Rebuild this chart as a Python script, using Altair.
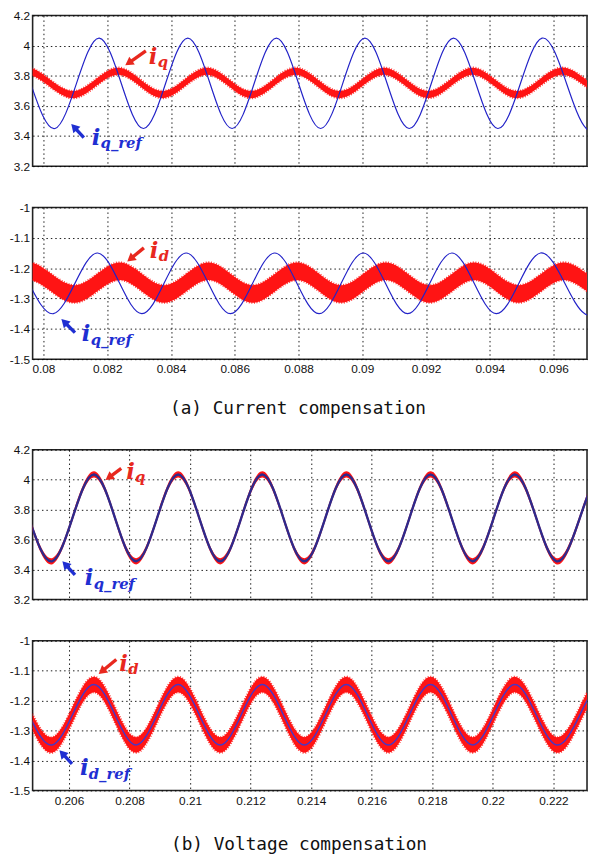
import math
import altair as alt
import pandas as pd

# ---------------- data (extrema of each waveform) ----------------
# (a) current compensation, x range and ticks
XDOM_A = [0.07966, 0.09705]
XTICKS_A = [0.08, 0.082, 0.084, 0.086, 0.088, 0.09, 0.092, 0.094, 0.096]
# (b) voltage compensation
XDOM_B = [0.2048, 0.22311]
XTICKS_B = [0.206, 0.208, 0.21, 0.212, 0.214, 0.216, 0.218, 0.22, 0.222]

YDOM_Q = [3.2, 4.2]
YTICKS_Q = [3.2, 3.4, 3.6, 3.8, 4.0, 4.2]
YDOM_D = [-1.5, -1.0]
YTICKS_D = [-1.5, -1.4, -1.3, -1.2, -1.1, -1.0]

# panel 1: i_q_ref (blue) and i_q (red)
T_A_QREF = [0.077583, 0.078972, 0.080361, 0.08175, 0.083139, 0.084528, 0.085917, 0.087306,
            0.088694, 0.090083, 0.091472, 0.092861, 0.09425, 0.095639, 0.097028, 0.098417]
V_A_QREF = [3.45, 4.05, 3.45, 4.05, 3.45, 4.05, 3.45, 4.05,
            3.45, 4.05, 3.45, 4.05, 3.45, 4.05, 3.45, 4.05]
T_A_Q = [0.078183, 0.079572, 0.080961, 0.08235, 0.083739, 0.085128, 0.086517, 0.087906,
         0.089294, 0.090683, 0.092072, 0.093461, 0.09485, 0.096239, 0.097628, 0.099017]
V_A_Q = [3.675, 3.83, 3.675, 3.83, 3.675, 3.83, 3.675, 3.83,
         3.675, 3.83, 3.675, 3.83, 3.675, 3.83, 3.675, 3.83]
HW_A_Q = 0.024

# panel 2: reference (blue) and i_d (red)
T_A_DREF = [0.077533, 0.078922, 0.080311, 0.0817, 0.083089, 0.084478, 0.085867, 0.087256,
            0.088644, 0.090033, 0.091422, 0.092811, 0.0942, 0.095589, 0.096978, 0.098367]
V_A_DREF = [-1.35, -1.15, -1.35, -1.15, -1.35, -1.15, -1.35, -1.15,
            -1.35, -1.15, -1.35, -1.15, -1.35, -1.15, -1.35, -1.15]
T_A_D = [0.078233, 0.079622, 0.081011, 0.0824, 0.083789, 0.085178, 0.086567, 0.087956,
         0.089344, 0.090733, 0.092122, 0.093511, 0.0949, 0.096289, 0.097678, 0.099067]
V_A_D = [-1.285, -1.21, -1.285, -1.21, -1.285, -1.21, -1.285, -1.21,
         -1.285, -1.21, -1.285, -1.21, -1.285, -1.21, -1.285, -1.21]
HW_A_D = 0.029

# panels 3 and 4: reference and measured almost coincide
T_B = [0.202663, 0.204052, 0.205441, 0.20683, 0.208219, 0.209608, 0.210997, 0.212386, 0.213774,
       0.215163, 0.216552, 0.217941, 0.21933, 0.220719, 0.222108, 0.223497, 0.224886]
V_B_Q = [3.455, 4.035, 3.455, 4.035, 3.455, 4.035, 3.455, 4.035, 3.455,
         4.035, 3.455, 4.035, 3.455, 4.035, 3.455, 4.035, 3.455]
V_B_D = [-1.348, -1.146, -1.348, -1.146, -1.348, -1.146, -1.348, -1.146, -1.348,
         -1.146, -1.348, -1.146, -1.348, -1.146, -1.348, -1.146, -1.348]
HW_B_Q = 0.021
HW_B_D = 0.026

CAPTION_A = "(a) Current compensation"
CAPTION_B = "(b) Voltage compensation"

# ---------------- styling ----------------
RED = "#ff1414"
BLUE = "#2323c8"
BLUE_DARK = "#2e2a8c"
BLUE_MID = "#4a36c4"
ARROW_RED = "#e8281e"
ARROW_BLUE = "#1f2fd2"
W = 563
SERIF = "DejaVu Serif"

dummy = pd.DataFrame({"d": [0]})

Y_LABEL_EXPR = "replace(format(datum.value, '.1~f'), '\u2212', '-')"


def x_axis(ticks, show_labels, caption=None, cap_x=0, cap_y=0):
    kw = dict(values=ticks, format=".3~f", grid=True, ticks=False, domain=False,
              labels=show_labels, labelPadding=5, labelOverlap=False)
    if caption:
        kw.update(title=caption, titleX=cap_x, titleY=cap_y, titleAlign="center",
                  titleBaseline="middle", titleFont="DejaVu Sans Mono", titleFontSize=18,
                  titleFontWeight="normal", titleColor="#111111", titleAnchor="start")
    else:
        kw.update(title=None)
    return alt.Axis(**kw)


def y_axis(ticks):
    return alt.Axis(values=ticks, labelExpr=Y_LABEL_EXPR, grid=True, ticks=False,
                    domain=False, title=None, labelPadding=3, labelOverlap=False)


def arrow(tail, head, color):
    dx, dy = head[0] - tail[0], head[1] - tail[1]
    L = math.hypot(dx, dy)
    ux, uy = dx / L, dy / L
    ang = math.degrees(math.atan2(dx, -dy)) % 360
    hl = 10
    se = (head[0] - ux * hl * 0.6, head[1] - uy * hl * 0.6)
    tc = (head[0] - ux * hl * 0.45, head[1] - uy * hl * 0.45)
    shaft = alt.Chart(dummy).mark_rule(color=color, strokeWidth=3.4).encode(
        x=alt.value(tail[0]), y=alt.value(tail[1]), x2=alt.value(se[0]), y2=alt.value(se[1]))
    tri = alt.Chart(dummy).mark_point(shape="triangle", filled=True, size=95, angle=ang,
                                      color=color, opacity=1).encode(
        x=alt.value(tc[0]), y=alt.value(tc[1]))
    return [shaft, tri]


def label(pos_i, pos_sub, sub, color):
    li = alt.Chart(dummy).mark_text(text="i", font=SERIF, fontStyle="italic", fontWeight="bold",
                                    fontSize=23, align="left", baseline="alphabetic",
                                    color=color).encode(x=alt.value(pos_i[0]), y=alt.value(pos_i[1]))
    ls = alt.Chart(dummy).mark_text(text=sub, font=SERIF, fontStyle="italic", fontWeight="bold",
                                    fontSize=15, align="left", baseline="alphabetic",
                                    color=color).encode(x=alt.value(pos_sub[0]), y=alt.value(pos_sub[1]))
    return [li, ls]


def panel(height, xdom, xticks, show_x, ydom, yticks, ref_t, ref_v, meas_t, meas_v, hw,
          ref_color, ref_width, annots, fringe=True, caption=None, cap_x=0, cap_y=0):
    ref_df = pd.DataFrame({"t": ref_t, "v": ref_v})
    meas_df = pd.DataFrame({"t": meas_t, "v": meas_v})
    xs = alt.Scale(domain=xdom, nice=False, zero=False)
    ys = alt.Scale(domain=ydom, nice=False, zero=False)
    xa = x_axis(xticks, show_x, caption, cap_x, cap_y)
    ya = y_axis(yticks)
    area_kw = dict(interpolate="natural", color=RED, clip=True)
    if fringe:
        # ripple of the measured current: fringed (dashed) outline of the band
        area_kw.update(stroke=RED, strokeWidth=2.2, strokeDash=[1, 1.6], strokeOpacity=0.85)
    band = alt.Chart(meas_df).transform_calculate(
        hi=f"datum.v + {hw}", lo=f"datum.v - {hw}"
    ).mark_area(**area_kw).encode(
        x=alt.X("t:Q", scale=xs, axis=xa), y=alt.Y("hi:Q", scale=ys, axis=ya), y2="lo:Q")
    ref = alt.Chart(ref_df).mark_line(interpolate="natural", color=ref_color,
                                      strokeWidth=ref_width, clip=True).encode(
        x=alt.X("t:Q", scale=xs, axis=xa), y=alt.Y("v:Q", scale=ys, axis=ya))
    return alt.layer(band, ref, *annots).properties(width=W, height=height)


# annotation positions (pixels inside each plot area)
ann1 = (arrow((115, 36), (95, 50), ARROW_RED) + label((118, 49), (127, 52), "q", ARROW_RED)
        + arrow((52, 124), (40, 111), ARROW_BLUE) + label((60, 131), (69, 135), "q_ref", ARROW_BLUE))
ann2 = (arrow((113, 41), (97, 54), ARROW_RED) + label((119, 51), (128, 54), "d", ARROW_RED)
        + arrow((43, 127), (30, 114), ARROW_BLUE) + label((50, 136), (59, 140), "q_ref", ARROW_BLUE))
ann3 = (arrow((90, 19), (75, 30), ARROW_RED) + label((95, 30), (104, 33), "q", ARROW_RED)
        + arrow((43, 127), (31, 114), ARROW_BLUE) + label((53, 137), (62, 141), "q_ref", ARROW_BLUE))
ann4 = (arrow((85, 19), (68, 33), ARROW_RED) + label((88, 31), (97, 34), "d", ARROW_RED)
        + arrow((40, 125), (28, 112), ARROW_BLUE) + label((48, 136), (57, 140), "d_ref", ARROW_BLUE))

p1 = panel(153, XDOM_A, XTICKS_A, False, YDOM_Q, YTICKS_Q, T_A_QREF, V_A_QREF, T_A_Q, V_A_Q,
           HW_A_Q, BLUE, 1.2, ann1)
p2 = panel(154, XDOM_A, XTICKS_A, True, YDOM_D, YTICKS_D, T_A_DREF, V_A_DREF, T_A_D, V_A_D,
           HW_A_D, BLUE, 1.2, ann2, True, CAPTION_A, 269, 50)
p3 = panel(152, XDOM_B, XTICKS_B, False, YDOM_Q, YTICKS_Q, T_B, V_B_Q, T_B, V_B_Q,
           HW_B_Q, BLUE_DARK, 2.4, ann3, False)
p4 = panel(152, XDOM_B, XTICKS_B, True, YDOM_D, YTICKS_D, T_B, V_B_D, T_B, V_B_D,
           HW_B_D, BLUE_MID, 1.5, ann4, True, CAPTION_B, 270, 55)

spacer = alt.Chart(dummy).mark_point(opacity=0).encode(
    x=alt.X("d:Q", axis=None), y=alt.Y("d:Q", axis=None)
).properties(width=W, height=8, view=alt.ViewBackground(stroke="transparent"))

chart = alt.vconcat(p1, p2, spacer, p3, p4, spacing=42, bounds="flush").properties(
    padding={"left": 0, "top": -6, "right": 0, "bottom": 0}, background="white"
).configure_view(stroke="#222222", strokeWidth=1.6).configure_axis(
    labelFont="Liberation Sans", labelFontSize=12, labelColor="#111111", labelOverlap=False,
    gridColor="#000000", gridDash=[1.5, 3], gridOpacity=0.9, gridWidth=1
)

chart.save("out.html", embed_options={"renderer": "svg", "actions": False})
